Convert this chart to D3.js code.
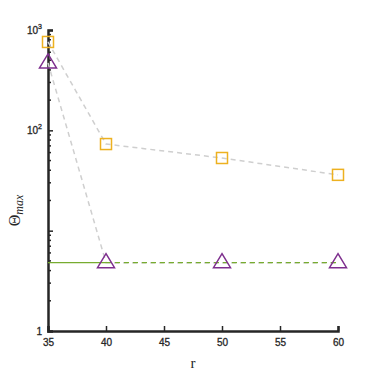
<!DOCTYPE html>
<html>
<head>
<meta charset="utf-8">
<script src="https://cdn.jsdelivr.net/npm/d3@7"></script>
<style>
  body { margin: 0; background: #fff; }
  .tick text { font-family: "Liberation Sans", Arial, sans-serif; font-size: 10px; fill: #262626; stroke: #262626; stroke-width: 0.3px; }
  .ylab { stroke: #262626; stroke-width: 0.3px; }
</style>
</head>
<body>
<div id="chart"></div>
<script>
// data
const rValues = [35, 40, 50, 60];
const squareSeries = [760, 73, 53, 36];
const triangleSeries = [470, 4.8, 4.8, 4.8];
const greenLevel = 4.8;
const xTicks = [35, 40, 45, 50, 55, 60];
const yMajor = [1, 10, 100, 1000];

const margin = {top: 30, right: 36, bottom: 43, left: 48};
const width = 374 - margin.left - margin.right;
const height = 374 - margin.top - margin.bottom;

const svg = d3.select("#chart").append("svg")
    .attr("width", 374)
    .attr("height", 374)
    .append("g")
    .attr("transform", "translate(" + margin.left + "," + margin.top + ")");

const x = d3.scaleLinear().domain([35, 60]).range([0, width]);
const y = d3.scaleLog().domain([1, 1000]).range([height, 0]);

const axisColor = "#262626";

// minor ticks on y
let minor = [];
for (let p = 0; p < 3; p++) {
    for (let k = 2; k <= 9; k++) minor.push(k * Math.pow(10, p));
}
svg.append("g").selectAll("line")
    .data(minor)
    .enter().append("line")
    .attr("x1", 0).attr("x2", 3)
    .attr("y1", d => y(d)).attr("y2", d => y(d))
    .attr("stroke", axisColor).attr("stroke-width", 1.5);

// y axis
const yAxis = d3.axisLeft(y)
    .tickValues(yMajor)
    .tickSize(-5)
    .tickPadding(8)
    .tickFormat(() => "");
const gy = svg.append("g").call(yAxis);
gy.select(".domain").attr("stroke", axisColor).attr("stroke-width", 2.5);
gy.selectAll(".tick line").attr("stroke", axisColor).attr("stroke-width", 1.5);

// y tick labels (no label for 10 in the original)
const yLabels = [{v: 1000, e: "3"}, {v: 100, e: "2"}];
yLabels.forEach(function(d) {
    const t = svg.append("text")
        .attr("class", "ylab")
        .attr("x", -6).attr("y", y(d.v) + 4)
        .attr("text-anchor", "end")
        .attr("font-family", "Liberation Sans, Arial, sans-serif")
        .attr("font-size", 10).attr("fill", axisColor);
    t.append("tspan").text("10");
    t.append("tspan").attr("dy", -5).attr("font-size", 7).text(d.e);
});
svg.append("text")
    .attr("class", "ylab")
    .attr("x", -6).attr("y", y(1) + 4)
    .attr("text-anchor", "end")
    .attr("font-family", "Liberation Sans, Arial, sans-serif")
    .attr("font-size", 10).attr("fill", axisColor)
    .text("1");

// x axis
const xAxis = d3.axisBottom(x)
    .tickValues(xTicks)
    .tickSize(-5)
    .tickPadding(8);
const gx = svg.append("g")
    .attr("transform", "translate(0," + height + ")")
    .call(xAxis);
gx.select(".domain").attr("stroke", axisColor).attr("stroke-width", 2.5);
gx.selectAll(".tick line").attr("stroke", axisColor).attr("stroke-width", 1.5);

// grey dashed connecting lines
const line = d3.line().x((d, i) => x(rValues[i])).y(d => y(d));
[squareSeries, triangleSeries].forEach(function(s) {
    svg.append("path")
        .datum(s)
        .attr("d", line)
        .attr("fill", "none")
        .attr("stroke", "#cfcfcf")
        .attr("stroke-width", 1.5)
        .attr("stroke-dasharray", "5,4");
});

// green reference line
svg.append("line")
    .attr("x1", x(35)).attr("x2", x(40))
    .attr("y1", y(greenLevel)).attr("y2", y(greenLevel))
    .attr("stroke", "#77AC30").attr("stroke-width", 1.3);
svg.append("line")
    .attr("x1", x(40)).attr("x2", x(60))
    .attr("y1", y(greenLevel)).attr("y2", y(greenLevel))
    .attr("stroke", "#77AC30").attr("stroke-width", 1.3)
    .attr("stroke-dasharray", "5,4");

// square markers
svg.selectAll(".sq")
    .data(squareSeries)
    .enter().append("rect")
    .attr("class", "sq")
    .attr("x", (d, i) => x(rValues[i]) - 5.5)
    .attr("y", d => y(d) - 5.5)
    .attr("width", 11).attr("height", 11)
    .attr("fill", "none")
    .attr("stroke", "#EDB120")
    .attr("stroke-width", 1.5);

// triangle markers
svg.selectAll(".tri")
    .data(triangleSeries)
    .enter().append("path")
    .attr("class", "tri")
    .attr("d", function(d, i) {
        const cx = x(rValues[i]), cy = y(d);
        return "M" + cx + "," + (cy - 9) + "L" + (cx + 8.5) + "," + (cy + 5) + "L" + (cx - 8.5) + "," + (cy + 5) + "Z";
    })
    .attr("fill", "none")
    .attr("stroke", "#7E2F8E")
    .attr("stroke-width", 1.5);

// axis labels
svg.append("text")
    .attr("x", width / 2).attr("y", height + 37)
    .attr("text-anchor", "middle")
    .attr("font-family", "Liberation Serif, Times New Roman, serif")
    .attr("font-size", 15).attr("fill", axisColor)
    .text("r");

const yl = svg.append("text")
    .attr("transform", "translate(" + (-28) + "," + (height / 2 + 30) + ") rotate(-90)")
    .attr("text-anchor", "middle")
    .attr("font-family", "Liberation Serif, Times New Roman, serif")
    .attr("font-size", 16).attr("fill", axisColor);
yl.append("tspan").text("Θ");
yl.append("tspan").attr("dy", 3).attr("font-size", 12).attr("font-style", "italic").text("max");
</script>
</body>
</html>
